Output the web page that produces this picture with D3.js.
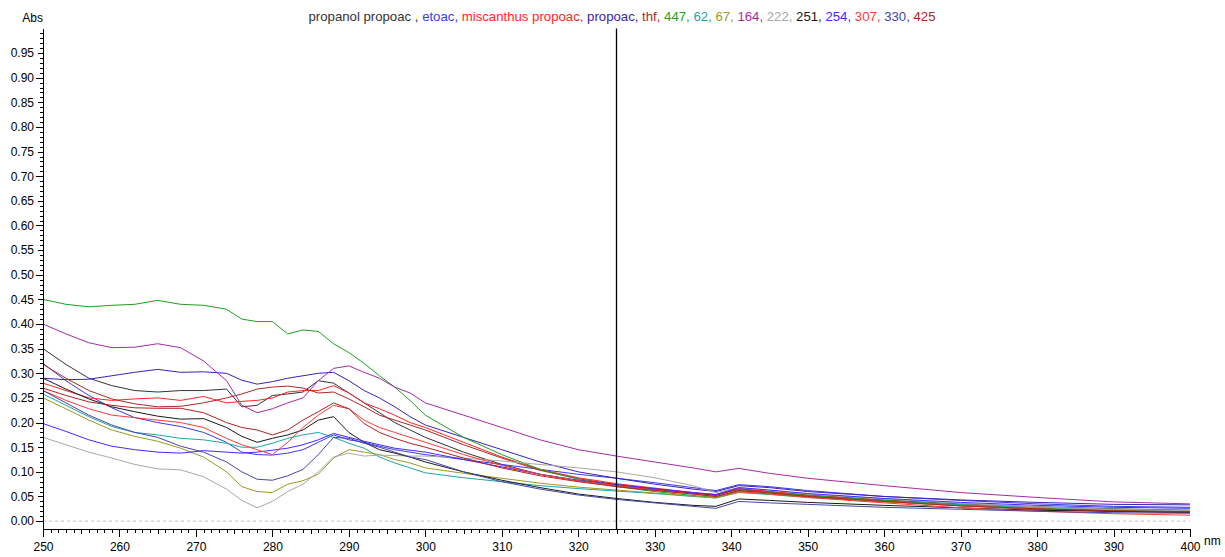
<!DOCTYPE html>
<html>
<head>
<meta charset="utf-8">
<script src="https://cdn.jsdelivr.net/npm/d3@7"></script>
<style>
  body { margin: 0; background: #fff; }
  svg { display: block; font-family: "Liberation Sans", Arial, sans-serif; }
  .tick text { font-size: 12px; fill: #000; }
  .tick line, .domain { shape-rendering: crispEdges; }
</style>
</head>
<body>
<svg id="chart" width="1225" height="557"></svg>
<script>
// wavelengths (nm) shared by every spectrum
var wavelengths = [250,253,256,259,262,265,268,271,274,276,278,280,282,284,286,288,290,292,294,296,298,300,
                   305,310,315,320,325,330,335,338,341,345,350,360,370,380,390,400];

// absorbance per sample
var propanolPropoac = [0.35,0.318,0.29,0.275,0.265,0.262,0.265,0.265,0.268,0.232,0.235,0.255,0.258,0.262,0.285,0.28,0.26,0.24,0.22,0.2,0.185,0.17,
                       0.14,0.115,0.095,0.082,0.072,0.064,0.057,0.052,0.066,0.06,0.053,0.043,0.035,0.029,0.025,0.022];
var etoac = [0.32,0.285,0.255,0.23,0.21,0.2,0.192,0.18,0.16,0.14,0.135,0.134,0.138,0.145,0.16,0.175,0.165,0.16,0.152,0.145,0.14,0.135,
             0.125,0.115,0.105,0.095,0.087,0.078,0.068,0.062,0.074,0.07,0.062,0.05,0.042,0.035,0.03,0.028];
var miscanthusPropoac = [0.28,0.265,0.25,0.245,0.248,0.25,0.245,0.253,0.24,0.243,0.245,0.25,0.262,0.265,0.265,0.275,0.26,0.24,0.228,0.215,0.2,0.19,
                         0.16,0.13,0.105,0.088,0.076,0.067,0.058,0.054,0.066,0.06,0.053,0.042,0.032,0.024,0.02,0.018];
var propoac = [0.29,0.287,0.288,0.295,0.302,0.308,0.302,0.303,0.3,0.286,0.278,0.283,0.29,0.295,0.3,0.302,0.285,0.265,0.25,0.232,0.212,0.195,
               0.17,0.145,0.12,0.1,0.087,0.075,0.065,0.06,0.072,0.068,0.06,0.05,0.043,0.038,0.034,0.033];
var thf = [0.318,0.29,0.265,0.248,0.238,0.232,0.233,0.24,0.25,0.258,0.268,0.272,0.274,0.27,0.26,0.262,0.248,0.232,0.215,0.205,0.195,0.185,
           0.155,0.128,0.103,0.086,0.074,0.065,0.057,0.053,0.064,0.058,0.051,0.04,0.031,0.024,0.02,0.017];
var s447 = [0.45,0.44,0.435,0.438,0.44,0.448,0.44,0.438,0.43,0.41,0.405,0.405,0.38,0.388,0.385,0.36,0.342,0.32,0.295,0.272,0.245,0.215,
            0.17,0.135,0.105,0.085,0.07,0.06,0.052,0.048,0.062,0.058,0.052,0.042,0.033,0.026,0.022,0.02];
var s62 = [0.258,0.235,0.212,0.192,0.18,0.175,0.168,0.165,0.158,0.15,0.15,0.158,0.168,0.175,0.18,0.17,0.158,0.148,0.13,0.118,0.108,0.098,
           0.088,0.08,0.072,0.066,0.061,0.056,0.05,0.047,0.058,0.054,0.048,0.04,0.033,0.028,0.024,0.022];
var s67 = [0.25,0.228,0.205,0.185,0.172,0.162,0.148,0.13,0.1,0.07,0.06,0.058,0.075,0.082,0.095,0.128,0.145,0.14,0.135,0.125,0.118,0.108,
           0.097,0.087,0.077,0.069,0.063,0.057,0.051,0.047,0.059,0.055,0.049,0.039,0.031,0.025,0.021,0.019];
var s164 = [0.40,0.38,0.362,0.352,0.353,0.36,0.352,0.325,0.285,0.235,0.22,0.228,0.24,0.25,0.285,0.31,0.315,0.302,0.29,0.272,0.26,0.24,
            0.215,0.19,0.165,0.145,0.132,0.12,0.108,0.1,0.107,0.097,0.087,0.072,0.058,0.048,0.039,0.035];
var s222 = [0.17,0.155,0.14,0.128,0.115,0.106,0.104,0.09,0.065,0.042,0.027,0.04,0.06,0.075,0.1,0.13,0.138,0.132,0.134,0.133,0.132,0.132,
            0.128,0.122,0.115,0.108,0.1,0.088,0.072,0.058,0.068,0.063,0.055,0.045,0.036,0.029,0.024,0.021];
var s251 = [0.29,0.268,0.248,0.232,0.222,0.213,0.207,0.208,0.19,0.172,0.16,0.168,0.175,0.185,0.205,0.212,0.18,0.16,0.145,0.138,0.13,0.12,
            0.1,0.083,0.068,0.055,0.046,0.038,0.032,0.03,0.045,0.042,0.038,0.032,0.027,0.022,0.02,0.018];
var s254 = [0.198,0.182,0.165,0.152,0.145,0.14,0.138,0.143,0.14,0.138,0.14,0.144,0.148,0.155,0.165,0.178,0.17,0.162,0.155,0.148,0.144,0.14,
            0.125,0.11,0.095,0.083,0.074,0.066,0.058,0.054,0.068,0.063,0.056,0.046,0.038,0.032,0.028,0.026];
var s307 = [0.265,0.245,0.228,0.215,0.21,0.205,0.2,0.19,0.168,0.155,0.145,0.135,0.16,0.19,0.215,0.235,0.228,0.205,0.19,0.18,0.17,0.16,
            0.135,0.113,0.095,0.082,0.072,0.063,0.055,0.05,0.06,0.055,0.048,0.037,0.027,0.02,0.015,0.012];
var s330 = [0.265,0.24,0.215,0.195,0.18,0.17,0.152,0.14,0.12,0.1,0.085,0.083,0.092,0.105,0.135,0.17,0.168,0.158,0.15,0.14,0.13,0.125,
            0.1,0.08,0.065,0.053,0.044,0.037,0.03,0.026,0.04,0.037,0.034,0.028,0.024,0.02,0.017,0.016];
var s425 = [0.27,0.255,0.242,0.235,0.23,0.229,0.229,0.22,0.2,0.19,0.185,0.175,0.185,0.205,0.222,0.24,0.228,0.198,0.18,0.168,0.158,0.15,
            0.128,0.108,0.092,0.08,0.07,0.062,0.055,0.05,0.062,0.057,0.05,0.04,0.031,0.025,0.021,0.019];

var seriesNames = ["propanol propoac ", "etoac", "miscanthus propoac", "propoac", "thf", "447", "62", "67",
                   "164", "222", "251", "254", "307", "330", "425"];
var seriesColors = ["#333333", "#3a3af0", "#ff2424", "#3c22b0", "#a52a2a", "#1f9e1f", "#1fa3a3", "#9a9a1c",
                    "#a62ca6", "#a8a8a8", "#1a1a1a", "#4428ff", "#ff3a3a", "#4646a8", "#b02222"];
var seriesValues = [propanolPropoac, etoac, miscanthusPropoac, propoac, thf, s447, s62, s67,
                    s164, s222, s251, s254, s307, s330, s425];

var yLabelTicks = d3.range(0, 20).map(function(i) { return i * 0.05; });
var xLabelTicks = d3.range(250, 401, 10);
var markerNm = 325;

var svg = d3.select("#chart");
// note: "top" is taken by window.top, so plot* names
var plotLeft = 43, plotRight = 1190, plotTop = 28.4, plotBottom = 529;

var x = d3.scaleLinear().domain([250, 400]).range([plotLeft, plotRight]);
var y = d3.scaleLinear().domain([-0.016, 1.0]).range([plotBottom, plotTop]);

// dashed zero line
svg.append("line")
    .attr("x1", plotLeft).attr("x2", plotRight)
    .attr("y1", y(0)).attr("y2", y(0))
    .attr("stroke", "#c4bfb4")
    .attr("stroke-dasharray", "3,3");

// spectra
var line = d3.line()
    .x(function(d) { return x(d[0]); })
    .y(function(d) { return y(d[1]); });

seriesValues.forEach(function(vals, i) {
  var pts = wavelengths.map(function(w, j) { return [w, vals[j]]; });
  svg.append("path")
      .datum(pts)
      .attr("fill", "none")
      .attr("stroke", seriesColors[i])
      .attr("stroke-width", 1)
      .attr("d", line);
});

// cursor line
svg.append("line")
    .attr("x1", x(markerNm)).attr("x2", x(markerNm))
    .attr("y1", plotTop).attr("y2", plotBottom)
    .attr("stroke", "#000")
    .attr("stroke-width", 1.3);

// y axis: minor 0.01, mid 0.05 with labels, major 0.1
var yMinor = d3.range(0, 100).map(function(i) { return i / 100; });
svg.append("g")
    .attr("transform", "translate(" + plotLeft + ",0)")
    .call(d3.axisLeft(y).tickValues(yMinor).tickSize(3).tickSizeOuter(0).tickFormat(""));
svg.append("g")
    .attr("transform", "translate(" + plotLeft + ",0)")
    .call(d3.axisLeft(y).tickValues(yLabelTicks).tickSize(5).tickPadding(4).tickSizeOuter(0)
          .tickFormat(d3.format(".2f")));
svg.append("g")
    .attr("transform", "translate(" + plotLeft + ",0)")
    .call(d3.axisLeft(y).tickValues(d3.range(0, 10).map(function(i) { return i / 10; }))
          .tickSize(7).tickSizeOuter(0).tickFormat(""));

// x axis: minor 1 nm, mid 5 nm, major 10 nm with labels
svg.append("g")
    .attr("transform", "translate(0," + plotBottom + ")")
    .call(d3.axisBottom(x).tickValues(d3.range(250, 401, 1)).tickSize(4).tickSizeOuter(0).tickFormat(""));
svg.append("g")
    .attr("transform", "translate(0," + plotBottom + ")")
    .call(d3.axisBottom(x).tickValues(d3.range(255, 400, 10)).tickSize(5).tickSizeOuter(0).tickFormat(""));
svg.append("g")
    .attr("transform", "translate(0," + plotBottom + ")")
    .call(d3.axisBottom(x).tickValues(xLabelTicks).tickSize(8).tickPadding(5).tickSizeOuter(0)
          .tickFormat(d3.format("d")));

svg.selectAll(".domain").attr("stroke", "#000");
svg.selectAll(".tick line").attr("stroke", "#000");

// axis units
svg.append("text")
    .attr("x", plotLeft).attr("y", 22)
    .attr("text-anchor", "end")
    .style("font-size", "12px")
    .text("Abs");
svg.append("text")
    .attr("x", 1204).attr("y", 545)
    .style("font-size", "12px")
    .text("nm");

// coloured legend line across the top
var legend = svg.append("text")
    .attr("x", 622).attr("y", 21)
    .attr("text-anchor", "middle")
    .style("font-size", "13.2px");
seriesNames.forEach(function(name, i) {
  legend.append("tspan")
      .attr("fill", seriesColors[i])
      .text(name + (i < seriesNames.length - 1 ? ", " : ""));
});
</script>
</body>
</html>
